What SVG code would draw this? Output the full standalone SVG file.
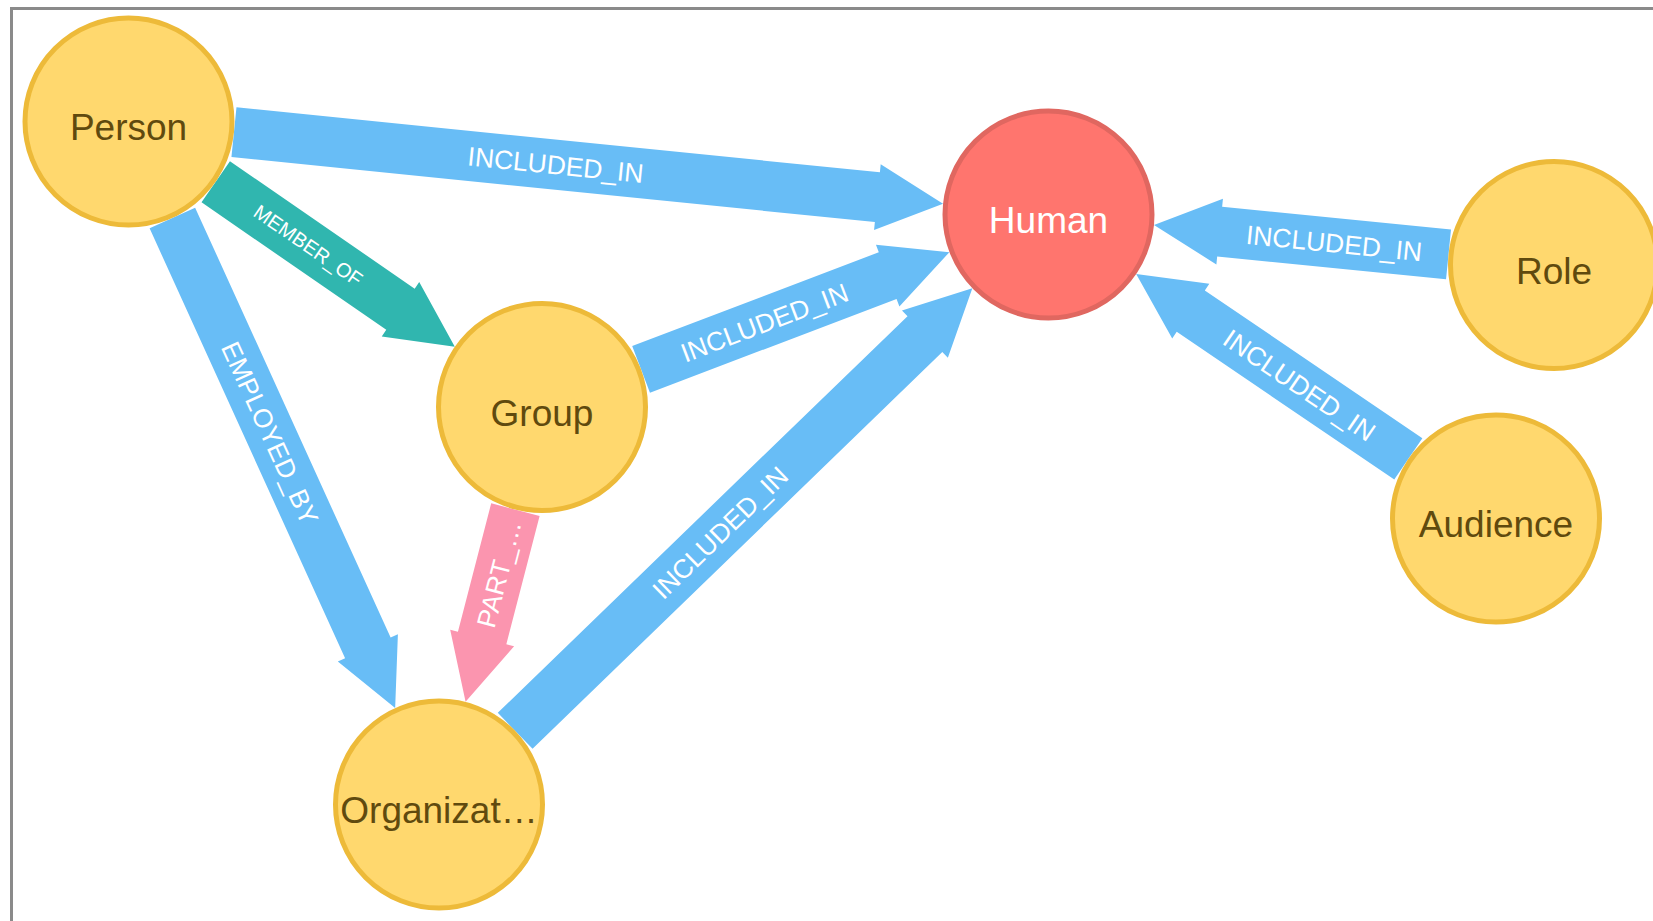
<svg xmlns="http://www.w3.org/2000/svg" width="1653" height="921" viewBox="0 0 1653 921">
  <defs>
    <style>
      .frame { fill: #ffffff; stroke: #8a8a8a; stroke-width: 3; }
      .rel-blue { fill: #68BDF6; }
      .rel-teal { fill: #30B6AF; }
      .rel-pink { fill: #FB95AF; }
      .rel-label { font-family: "Liberation Sans", Arial, Helvetica, sans-serif; font-size: 26.5px; fill: #ffffff; text-anchor: middle; }
      .rel-label.small { font-size: 20px; }
      .node-yellow circle { fill: #FFD86E; stroke: #EDBA39; stroke-width: 5; }
      .node-red circle { fill: #FF756E; stroke: #E06760; stroke-width: 5; }
      .node-caption { font-family: "Liberation Sans", Arial, Helvetica, sans-serif; font-size: 37px; text-anchor: middle; }
      .node-yellow .node-caption { fill: #604A0E; }
      .node-red .node-caption { fill: #ffffff; }
    </style>
  </defs>

  <rect class="frame" x="11.5" y="8.5" width="1700" height="1000"/>

  <!-- relationships: each drawn along local +x from the source centre -->
  <g id="connectors">
    <!-- Person -> Human -->
    <g id="rel-person-human" transform="translate(128.5 121.5) rotate(5.772)">
      <polygon class="rel-blue" points="106,-25 752.7,-25 752.7,-33 818.7,0 752.7,33 752.7,25 106,25"/>
      <text class="rel-label" x="429.35" y="9.5">INCLUDED_IN</text>
    </g>
    <!-- Person -> Group -->
    <g id="rel-person-group" transform="translate(128.5 121.5) rotate(34.62)">
      <polygon class="rel-teal" points="106,-25 330.5,-25 330.5,-33 396.5,0 330.5,33 330.5,25 106,25"/>
      <text class="rel-label small" x="218.25" y="7">MEMBER_OF</text>
    </g>
    <!-- Person -> Organization -->
    <g id="rel-person-org" transform="translate(128.5 121.5) rotate(65.55)">
      <polygon class="rel-blue" points="106,-25 578.3,-25 578.3,-33 644.3,0 578.3,33 578.3,25 106,25"/>
      <text class="rel-label" x="342.15" y="9.5">EMPLOYED_BY</text>
    </g>
    <!-- Group -> Human -->
    <g id="rel-group-human" transform="translate(542 407) rotate(-20.81)">
      <polygon class="rel-blue" points="106,-25 369.8,-25 369.8,-33 435.8,0 369.8,33 369.8,25 106,25"/>
      <text class="rel-label" x="237.9" y="9.5">INCLUDED_IN</text>
    </g>
    <!-- Group -> Organization -->
    <g id="rel-group-org" transform="translate(542 407) rotate(104.53)">
      <polygon class="rel-pink" points="106,-25 238.6,-25 238.6,-33 304.6,0 238.6,33 238.6,25 106,25"/>
      <text class="rel-label" x="172.3" y="9.5" transform="rotate(180 172.3 0)">PART_…</text>
    </g>
    <!-- Organization -> Human -->
    <g id="rel-org-human" transform="translate(439 804.5) rotate(-44.07)">
      <polygon class="rel-blue" points="106,-25 676.3,-25 676.3,-33 742.3,0 676.3,33 676.3,25 106,25"/>
      <text class="rel-label" x="391.15" y="9.5">INCLUDED_IN</text>
    </g>
    <!-- Role -> Human -->
    <g id="rel-role-human" transform="translate(1554 265) rotate(-174.295)">
      <polygon class="rel-blue" points="106,-25 336,-25 336,-33 402,0 336,33 336,25 106,25"/>
      <text class="rel-label" x="221" y="9.5" transform="rotate(180 221 0)">INCLUDED_IN</text>
    </g>
    <!-- Audience -> Human -->
    <g id="rel-audience-human" transform="translate(1496 518.5) rotate(-145.81)">
      <polygon class="rel-blue" points="106,-25 369,-25 369,-33 435,0 369,33 369,25 106,25"/>
      <text class="rel-label" x="237.5" y="9.5" transform="rotate(180 237.5 0)">INCLUDED_IN</text>
    </g>
  </g>

  <!-- nodes -->
  <g id="node-person" class="node-yellow">
    <circle cx="128.5" cy="121.5" r="103.5"/>
    <text class="node-caption" x="128.5" y="140.3">Person</text>
  </g>
  <g id="node-group" class="node-yellow">
    <circle cx="542" cy="407" r="103.5"/>
    <text class="node-caption" x="542" y="425.8">Group</text>
  </g>
  <g id="node-organization" class="node-yellow">
    <circle cx="439" cy="804.5" r="103.5"/>
    <text class="node-caption" x="439" y="823.3">Organizat…</text>
  </g>
  <g id="node-human" class="node-red">
    <circle cx="1048.5" cy="214.5" r="103.5"/>
    <text class="node-caption" x="1048.5" y="233.3">Human</text>
  </g>
  <g id="node-role" class="node-yellow">
    <circle cx="1554" cy="265" r="103.5"/>
    <text class="node-caption" x="1554" y="283.8">Role</text>
  </g>
  <g id="node-audience" class="node-yellow">
    <circle cx="1496" cy="518.5" r="103.5"/>
    <text class="node-caption" x="1496" y="537.3">Audience</text>
  </g>
</svg>
